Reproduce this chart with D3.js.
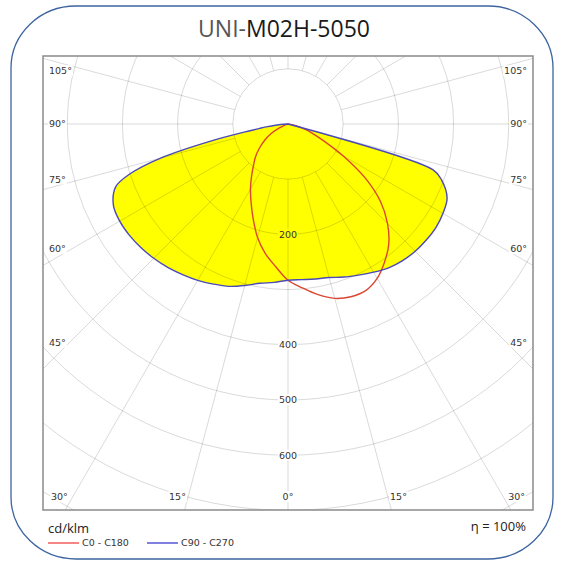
<!DOCTYPE html>
<html>
<head>
<meta charset="utf-8">
<script src="https://cdn.jsdelivr.net/npm/d3@7"></script>
<style>
  body { margin: 0; background: #fff; }
  svg { display: block; }
</style>
</head>
<body>
<div id="chart"></div>
<script>
// gamma angles (degrees from nadir) and intensities in cd/klm
const gammas = [0, 5, 10, 15, 20, 25, 30, 35, 40, 45, 50, 55, 60, 65, 70, 72.5, 75, 77.5, 80, 82.5, 85, 87.5, 90];
const c0   = [283, 298, 314, 327, 333, 333, 323, 305, 284, 255, 219, 171, 115, 70, 44, 34, 24, 16, 9, 5, 2, 0, 0];
const c180 = [283, 259, 238, 213, 184, 158, 136, 115, 97, 83, 67, 52, 37, 18, 7, 4, 2, 0, 0, 0, 0, 0, 0];
const c90  = [283, 283, 285, 288, 295, 302, 310, 318, 323, 326, 327, 327, 324, 318, 296, 275, 0, 0, 0, 0, 0, 0, 0];
const c270 = [283, 288, 293, 303, 313, 320, 327, 333, 339, 344, 348, 351, 352, 349, 332, 300, 240, 145, 70, 40, 20, 8, 0];

const ringValues = [100, 200, 300, 400, 500, 600, 700, 800, 900];
const ringLabels = [200, 400, 500, 600];
const spokeAngles = d3.range(0, 360, 15);
const sideLabels = [105, 90, 75, 60, 45, 30, 15];

const W = 561, H = 563;
const frame = { left: 43, top: 56, right: 533, bottom: 510 };
const cx = (frame.left + frame.right) / 2, cy = 124;

const r = d3.scaleLinear().domain([0, 100]).range([0, 55.2]);
const rad = d => d * Math.PI / 180;

const svg = d3.select("#chart").append("svg")
    .attr("width", W)
    .attr("height", H);

// outer rounded box
svg.append("rect")
    .attr("x", 11).attr("y", 6)
    .attr("width", 542).attr("height", 553)
    .attr("rx", 65).attr("ry", 62)
    .attr("fill", "none")
    .attr("stroke", "#3d64a0")
    .attr("stroke-width", 1.3);

// title
const title = svg.append("text")
    .attr("x", 284).attr("y", 37)
    .attr("text-anchor", "middle")
    .style("font-family", "'Open Sans', sans-serif")
    .style("font-size", "23px");
title.append("tspan").attr("fill", "#555").text("UNI-");
title.append("tspan").attr("fill", "#1a1a1a").text("M02H-5050");

svg.append("clipPath").attr("id", "frameClip")
  .append("rect")
    .attr("x", frame.left).attr("y", frame.top)
    .attr("width", frame.right - frame.left)
    .attr("height", frame.bottom - frame.top);

// curve points: right half from horizon down to nadir, then left half back up
function curvePoints(right, left) {
    const pts = [[cx, cy]];
    for (let i = gammas.length - 1; i >= 0; i--) {
        if (right[i] > 0) {
            const g = rad(gammas[i]);
            pts.push([cx + r(right[i]) * Math.sin(g), cy + r(right[i]) * Math.cos(g)]);
        }
    }
    for (let i = 1; i < gammas.length; i++) {
        if (left[i] > 0) {
            const g = rad(gammas[i]);
            pts.push([cx - r(left[i]) * Math.sin(g), cy + r(left[i]) * Math.cos(g)]);
        }
    }
    pts.push([cx, cy]);
    return pts;
}

const line = d3.line().curve(d3.curveCatmullRom.alpha(0.5));
const bluePts = curvePoints(c90, c270);
const redPts = curvePoints(c0, c180);

const plot = svg.append("g").attr("clip-path", "url(#frameClip)");

plot.append("path")
    .attr("d", line(bluePts) + "Z")
    .attr("fill", "#ffff00");

// grid drawn as translucent black so it darkens white and yellow alike
const grid = plot.append("g")
    .attr("fill", "none")
    .attr("stroke", "#000")
    .attr("stroke-opacity", 0.15)
    .attr("stroke-width", 1);

grid.selectAll("circle")
    .data(ringValues)
    .join("circle")
    .attr("cx", cx).attr("cy", cy)
    .attr("r", d => r(d));

grid.selectAll("line")
    .data(spokeAngles)
    .join("line")
    .attr("x1", d => cx + r(100) * Math.sin(rad(d)))
    .attr("y1", d => cy + r(100) * Math.cos(rad(d)))
    .attr("x2", d => cx + 700 * Math.sin(rad(d)))
    .attr("y2", d => cy + 700 * Math.cos(rad(d)));

// text with a box behind it, coloured like whatever lies underneath
function boxedText(g, x, y, txt, anchor) {
    const grp = g.append("g");
    const t = grp.append("text")
        .attr("x", x).attr("y", y)
        .attr("dy", "0.35em")
        .attr("text-anchor", anchor)
        .attr("fill", "#333")
        .style("font-family", "'DejaVu Sans', sans-serif")
        .style("font-size", "9.5px")
        .text(txt);
    const b = t.node().getBBox();
    const inside = d3.polygonContains(bluePts, [x, y]);
    grp.insert("rect", "text")
        .attr("x", b.x - 1).attr("y", b.y)
        .attr("width", b.width + 2).attr("height", b.height)
        .attr("fill", inside ? "#ffff00" : "#fff");
}

const labels = plot.append("g");

ringLabels.forEach(v => boxedText(labels, cx, cy + r(v), v, "middle"));

// angle labels, placed where the spoke meets an inset box of the frame
const inset = { left: 58, right: 518, top: 71, bottom: 497 };
function angleLabel(g, side) {
    const th = rad(g % 90 ? g + 1.5 : g);
    const sx = Math.sin(th), sy = Math.cos(th);
    const tx = (side < 0 ? cx - inset.left : inset.right - cx) / sx;
    const ty = sy > 0 ? (inset.bottom - cy) / sy : Infinity;
    const t = Math.min(tx, ty);
    let x = cx + side * t * sx, y = cy + t * sy;
    y = Math.max(inset.top, Math.min(inset.bottom, y));
    if (tx <= ty) {
        boxedText(labels, side < 0 ? 49 : 527, y, g + "°", side < 0 ? "start" : "end");
    } else {
        boxedText(labels, x, y, g + "°", "middle");
    }
}
sideLabels.forEach(g => { angleLabel(g, -1); angleLabel(g, 1); });
boxedText(labels, cx, inset.bottom, "0°", "middle");

plot.append("path")
    .attr("d", line(redPts))
    .attr("fill", "none")
    .attr("stroke", "#dc4630")
    .attr("stroke-width", 1.4);

plot.append("path")
    .attr("d", line(bluePts))
    .attr("fill", "none")
    .attr("stroke", "#4a4ab8")
    .attr("stroke-width", 1.4);

// frame
svg.append("rect")
    .attr("x", frame.left).attr("y", frame.top)
    .attr("width", frame.right - frame.left)
    .attr("height", frame.bottom - frame.top)
    .attr("fill", "none")
    .attr("stroke", "#8a8a8a")
    .attr("stroke-width", 1.5);

// legend
svg.append("text")
    .attr("x", 48).attr("y", 533)
    .attr("fill", "#222")
    .style("font-family", "'Open Sans', sans-serif")
    .style("font-size", "13px")
    .text("cd/klm");

svg.append("text")
    .attr("x", 526).attr("y", 531)
    .attr("text-anchor", "end")
    .attr("fill", "#222")
    .style("font-family", "'Open Sans', sans-serif")
    .style("font-size", "13px")
    .text("η = 100%");

const legendItems = [
    { name: "C0 - C180", color: "#ee4444", x: 48 },
    { name: "C90 - C270", color: "#3b3bd0", x: 147 }
];
const leg = svg.append("g").selectAll("g")
    .data(legendItems)
    .join("g")
    .attr("transform", d => `translate(${d.x},543)`);
leg.append("line")
    .attr("x1", 0).attr("x2", 31)
    .attr("stroke", d => d.color)
    .attr("stroke-width", 1.3);
leg.append("text")
    .attr("x", 34).attr("dy", "0.35em")
    .attr("fill", "#333")
    .style("font-family", "'DejaVu Sans', sans-serif")
    .style("font-size", "9.5px")
    .text(d => d.name);
</script>
</body>
</html>
